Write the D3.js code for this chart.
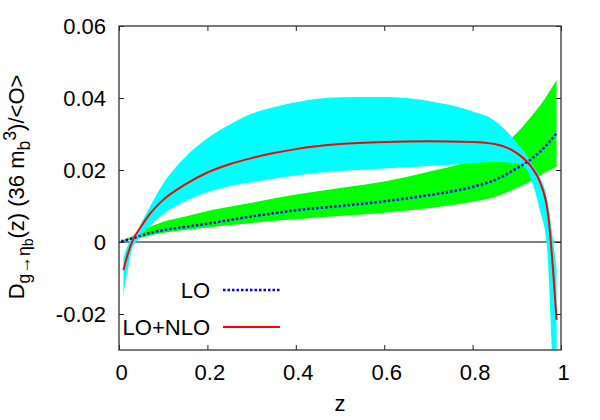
<!DOCTYPE html>
<html>
<head>
<meta charset="utf-8">
<script src="https://cdn.jsdelivr.net/npm/d3@7"></script>
<style>
  body { margin: 0; background: #fff; }
  svg text { font-family: "Liberation Sans", Arial, Helvetica, sans-serif; }
</style>
</head>
<body>
<svg id="chart" width="600" height="420"></svg>
<script>
// LO central curve (blue dotted)
const loZ   = [0.005, 0.03, 0.066, 0.1, 0.15, 0.2, 0.3, 0.4, 0.5, 0.6, 0.7, 0.8, 0.85, 0.9, 0.93, 0.96, 0.99];
const loVal = [0.0002, 0.0010, 0.0024, 0.0033, 0.0042, 0.0051, 0.0071, 0.0088, 0.0100, 0.0113, 0.0130, 0.0153, 0.0172, 0.0205, 0.0228, 0.0260, 0.0302];
// LO uncertainty band (green)
const loLow  = [0.0001, 0.0007, 0.0017, 0.0025, 0.0033, 0.0040, 0.0053, 0.0063, 0.0072, 0.0081, 0.0094, 0.0112, 0.0125, 0.0150, 0.0168, 0.0190, 0.0209];
const loHigh = [0.0003, 0.0016, 0.0040, 0.0056, 0.0071, 0.0086, 0.0109, 0.0132, 0.0150, 0.0168, 0.0195, 0.0228, 0.0255, 0.0303, 0.0345, 0.0392, 0.0450];

// LO+NLO central curve (red)
const nloZ   = [0.01, 0.02, 0.03, 0.05, 0.07, 0.1, 0.15, 0.2, 0.25, 0.3, 0.35, 0.4, 0.5, 0.6, 0.7, 0.8, 0.85, 0.9, 0.935, 0.952, 0.971, 0.99];
const nloVal = [-0.0078, -0.0033, 0.0002, 0.0043, 0.0078, 0.0117, 0.0160, 0.0193, 0.0216, 0.0233, 0.0247, 0.0258, 0.0272, 0.0278, 0.0280, 0.0278, 0.0272, 0.0247, 0.0205, 0.0168, 0.0075, -0.0217];
// LO+NLO uncertainty band (cyan)
const bandZ    = [0.01, 0.02, 0.03, 0.04, 0.05, 0.07, 0.1, 0.15, 0.2, 0.25, 0.3, 0.35, 0.4, 0.5, 0.6, 0.7, 0.8, 0.85, 0.9, 0.92, 0.935, 0.952, 0.9675, 0.983, 0.99];
const bandLow  = [-0.0147, -0.0075, -0.0018, 0.0002, 0.0018, 0.0045, 0.0077, 0.0113, 0.0138, 0.0155, 0.0166, 0.0176, 0.0185, 0.0197, 0.0204, 0.0211, 0.0219, 0.0222, 0.0218, 0.0205, 0.0165, 0.0089, -0.0004, -0.0400, -0.0600];
const bandHigh = [-0.0045, -0.0008, 0.0012, 0.0026, 0.0052, 0.0098, 0.0162, 0.0236, 0.0288, 0.0326, 0.0356, 0.0374, 0.0388, 0.0402, 0.0403, 0.0392, 0.0363, 0.0337, 0.0276, 0.0245, 0.0215, 0.0181, 0.0126, -0.0004, -0.0078];

const xTicks = [0, 0.2, 0.4, 0.6, 0.8, 1];
const yTicks = [-0.02, 0, 0.02, 0.04, 0.06];

const svg = d3.select("#chart");
const pLeft = 119, pRight = 561, pTop = 26, pBottom = 350;
const fs = 22;

const x = d3.scaleLinear().domain([0, 1]).range([pLeft, pRight]);
const y = d3.scaleLinear().domain([-0.03, 0.06]).range([pBottom, pTop]);

svg.append("clipPath").attr("id", "clip")
  .append("rect").attr("x", pLeft).attr("y", pTop)
  .attr("width", pRight - pLeft).attr("height", pBottom - pTop);

const plot = svg.append("g").attr("clip-path", "url(#clip)");

// zero line
plot.append("line")
  .attr("x1", pLeft).attr("x2", pRight)
  .attr("y1", y(0)).attr("y2", y(0))
  .attr("stroke", "#000").attr("stroke-width", 1);

const loRows = loZ.map((z, i) => ({ z: z, v: loVal[i], lo: loLow[i], hi: loHigh[i] }));
const bandRows = bandZ.map((z, i) => ({ z: z, lo: bandLow[i], hi: bandHigh[i] }));
const nloRows = nloZ.map((z, i) => ({ z: z, v: nloVal[i] }));

const area = d3.area()
  .x(d => x(d.z)).y0(d => y(d.lo)).y1(d => y(d.hi))
  .curve(d3.curveMonotoneX);

const line = d3.line()
  .x(d => x(d.z)).y(d => y(d.v))
  .curve(d3.curveMonotoneX);

// green LO band, then cyan NLO band on top
plot.append("path").datum(loRows).attr("d", area).attr("fill", "#00ff00");
plot.append("path").datum(bandRows).attr("d", area).attr("fill", "#00ffff");

plot.append("path").datum(loRows).attr("d", line)
  .attr("fill", "none").attr("stroke", "#0000ff")
  .attr("stroke-width", 2.5).attr("stroke-dasharray", "2.5,2");

plot.append("path").datum(nloRows).attr("d", line)
  .attr("fill", "none").attr("stroke", "#ff0000")
  .attr("stroke-width", 2);

// axes with inward ticks
const fmtY = v => v === 0 ? "0" : v.toFixed(2);
const fmtX = v => v === 0 ? "0" : (v === 1 ? "1" : v.toFixed(1));

const gx = svg.append("g").attr("transform", `translate(0,${pBottom})`)
  .call(d3.axisBottom(x).tickValues(xTicks).tickSize(-5).tickPadding(14).tickFormat(fmtX));
gx.selectAll("text").attr("dx", 2);
const gy = svg.append("g").attr("transform", `translate(${pLeft},0)`)
  .call(d3.axisLeft(y).tickValues(yTicks).tickSize(-5).tickPadding(13).tickFormat(fmtY));
const gt = svg.append("g").attr("transform", `translate(0,${pTop})`)
  .call(d3.axisTop(x).tickValues(xTicks).tickSize(-5).tickFormat(""));
const gr = svg.append("g").attr("transform", `translate(${pRight},0)`)
  .call(d3.axisRight(y).tickValues(yTicks).tickSize(-5).tickFormat(""));

[gx, gy, gt, gr].forEach(g => {
  g.select(".domain").remove();
  g.selectAll("line").attr("stroke", "#222");
  g.selectAll("text").attr("font-size", fs).attr("fill", "#000")
    .style("font-family", "'Liberation Sans', Arial, sans-serif");
});

// frame
svg.append("rect")
  .attr("x", pLeft).attr("y", pTop)
  .attr("width", pRight - pLeft).attr("height", pBottom - pTop)
  .attr("fill", "none").attr("stroke", "#333").attr("stroke-width", 1.3);

// axis titles
svg.append("text")
  .attr("x", (pLeft + pRight) / 2).attr("y", 411)
  .attr("text-anchor", "middle").attr("font-size", fs)
  .text("z");

const yl = svg.append("text")
  .attr("transform", `translate(23.5,${(pTop + pBottom) / 2 - 1}) rotate(-90)`)
  .attr("text-anchor", "middle").attr("font-size", fs);
yl.append("tspan").text("D");
yl.append("tspan").attr("font-size", 17.6).attr("dy", 6).text("g\u2192\u03b7");
yl.append("tspan").attr("font-size", 14).attr("dy", 3).text("b");
yl.append("tspan").attr("font-size", fs).attr("dy", -9).text("(z) (36 m");
yl.append("tspan").attr("font-size", 17.6).attr("dy", 6.5).text("b");
yl.append("tspan").attr("font-size", 17.6).attr("dy", -14).text("3");
yl.append("tspan").attr("font-size", fs).attr("dy", 7.5).text(")/<O>");

// legend
const legend = [
  { label: "LO", color: "#0000ff", dash: "2.5,2", width: 2.5, y: 290 },
  { label: "LO+NLO", color: "#ff0000", dash: null, width: 2, y: 327 }
];
legend.forEach(d => {
  svg.append("text")
    .attr("x", 210).attr("y", d.y + 7.5)
    .attr("text-anchor", "end").attr("font-size", fs)
    .text(d.label);
  svg.append("line")
    .attr("x1", 223).attr("x2", 280)
    .attr("y1", d.y).attr("y2", d.y)
    .attr("stroke", d.color).attr("stroke-width", d.width)
    .attr("stroke-dasharray", d.dash);
});
</script>
</body>
</html>
